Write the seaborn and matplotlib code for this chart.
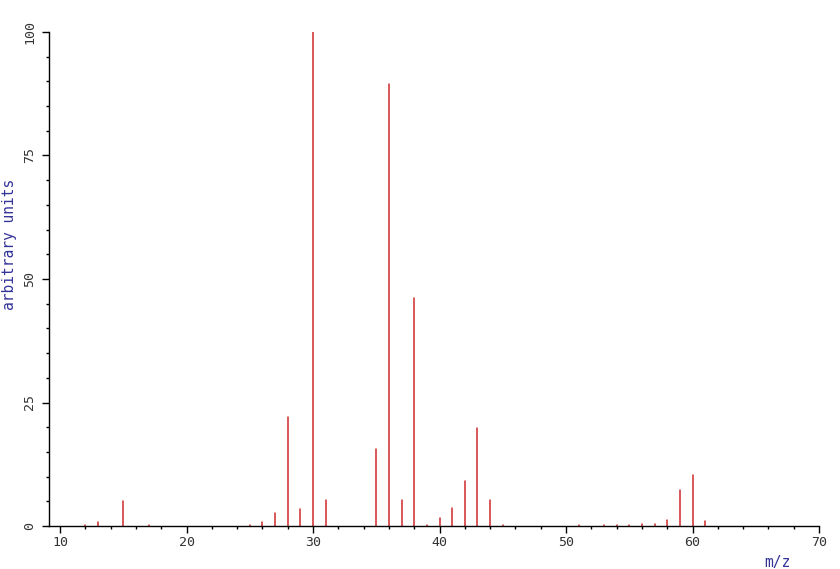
import matplotlib
matplotlib.use("Agg")
import matplotlib.pyplot as plt
from matplotlib.ticker import MultipleLocator
import numpy as np
import pandas as pd
import seaborn as sns

# Mass spectrum peaks (m/z, relative intensity)
mz = [12, 13, 15, 17, 25, 26, 27, 28, 29, 30, 31, 35, 36, 37, 38, 39, 40,
      41, 42, 43, 44, 45, 51, 53, 54, 55, 56, 57, 58, 59, 60, 61]
intensity = [0.3, 0.8, 5.0, 0.3, 0.3, 0.8, 2.6, 22.0, 3.4, 100.0, 5.2, 15.5,
             89.5, 5.2, 46.2, 0.3, 1.7, 3.6, 9.1, 19.9, 5.2, 0.3, 0.3, 0.3,
             0.3, 0.3, 0.4, 0.5, 1.3, 7.2, 10.4, 1.0]
x_ticks = [10, 20, 30, 40, 50, 60, 70]
y_ticks = [0, 25, 50, 75, 100]

# long-form table: each peak is a stem from the baseline to its intensity
rows = []
for i, (m, v) in enumerate(zip(mz, intensity)):
    rows.append({"peak": i, "mz": m, "val": 0.0})
    rows.append({"peak": i, "mz": m, "val": v})
df = pd.DataFrame(rows)

sns.set_style("white")
plt.rcParams["font.family"] = ["DejaVu Sans Mono", "DejaVu Sans"]

fig = plt.figure(figsize=(8.4, 5.69), dpi=100)
ax = fig.add_axes([49/840, 1 - 526/569, (819 - 49)/840, (526 - 32)/569])

sns.lineplot(data=df, x="mz", y="val", units="peak", estimator=None,
             color="#d02a2a", linewidth=1.1, ax=ax, legend=False)

ax.set_xlim(9.13, 70)
ax.set_ylim(0, 100)
ax.set_xticks(x_ticks)
ax.set_yticks(y_ticks)
ax.xaxis.set_minor_locator(MultipleLocator(2))
ax.yaxis.set_minor_locator(MultipleLocator(5))
ax.set_xlabel("")
ax.set_ylabel("")

for s in ["top", "right"]:
    ax.spines[s].set_visible(False)
for s in ["left", "bottom"]:
    ax.spines[s].set_color("black")
    ax.spines[s].set_linewidth(1.0)

ax.tick_params(axis="both", which="major", direction="out", length=5,
               width=1.0, color="black", labelsize=9.5, labelcolor="#333333")
ax.tick_params(axis="both", which="minor", direction="out", length=2.5,
               width=1.0, color="black")
ax.tick_params(axis="x", which="major", pad=2)
ax.tick_params(axis="y", which="major", pad=4)
ax.tick_params(axis="both", which="both", bottom=True, left=True)
for lbl in ax.get_yticklabels():
    lbl.set_rotation(90)
    lbl.set_va("center")

fig.text(10/840, 1 - 244/569, "arbitrary units", rotation=90,
         ha="center", va="center", fontsize=10.5, color="#333399")
fig.text(777/840, 1 - 562/569, "m/z", ha="center", va="center",
         fontsize=10.5, color="#333399")

fig.savefig("out.png", dpi=100)
